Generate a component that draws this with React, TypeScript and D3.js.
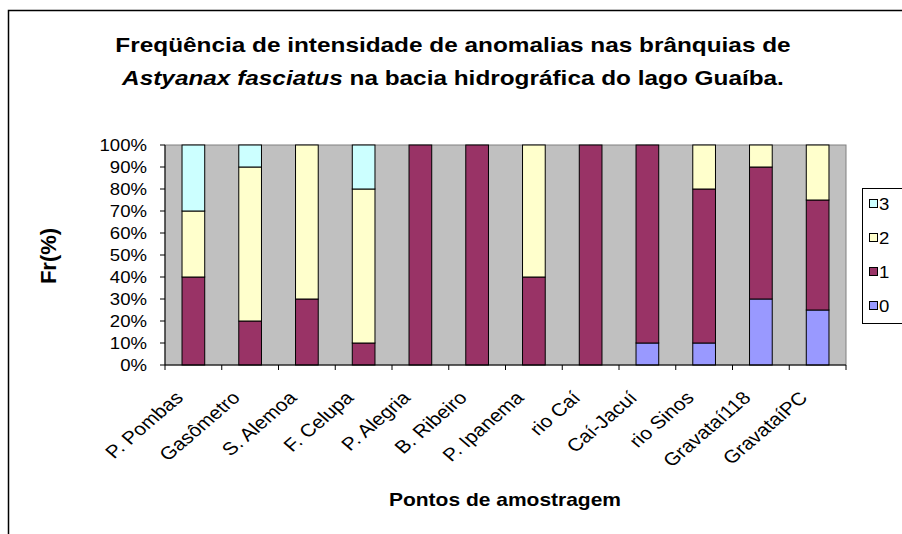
import React from 'react';
import * as d3 from 'd3';

const sites = [
  'P. Pombas', 'Gasômetro', 'S. Alemoa', 'F. Celupa', 'P. Alegria', 'B. Ribeiro',
  'P. Ipanema', 'rio Caí', 'Caí-Jacuí', 'rio Sinos', 'Gravataí118', 'GravataíPC',
];
// percentages per intensity class
const class0 = [0, 0, 0, 0, 0, 0, 0, 0, 10, 10, 30, 25];
const class1 = [40, 20, 30, 10, 100, 100, 40, 100, 90, 70, 60, 50];
const class2 = [30, 70, 70, 70, 0, 0, 60, 0, 0, 20, 10, 25];
const class3 = [30, 10, 0, 20, 0, 0, 0, 0, 0, 0, 0, 0];
const seriesKeys = ['0', '1', '2', '3'];
const seriesColors = ['#9999FF', '#993366', '#FFFFCC', '#CCFFFF'];
const yTicks = [0, 10, 20, 30, 40, 50, 60, 70, 80, 90, 100];

const W = 902;
const H = 534;
const plot = { left: 165, right: 846, top: 145, bottom: 365 };
const font = 'Arial, "Liberation Sans", sans-serif';
const SX = 1.16; // the original render is a bit wider than tall

export default function App() {
  const rows = sites.map((s, i) => ({
    site: s, '0': class0[i], '1': class1[i], '2': class2[i], '3': class3[i],
  }));
  const stacked = d3.stack<any>().keys(seriesKeys)(rows);

  const x = d3.scaleBand().domain(sites).range([plot.left, plot.right]).paddingInner(0.6).paddingOuter(0.3);
  const xOuter = d3.scaleBand().domain(sites).range([plot.left, plot.right]);
  const y = d3.scaleLinear().domain([0, 100]).range([plot.bottom, plot.top]);

  const legendItems = [...seriesKeys].reverse();

  return (
    <div style={{ position: 'absolute', left: 0, top: 0, width: W, height: H, background: '#fff' }}>
      <svg width={W} height={H} style={{ display: 'block', fontFamily: font }}>
        {/* chart frame */}
        <rect x={8.5} y={10.5} width={W + 10} height={H + 10} fill="#fff" stroke="#000" strokeWidth={1.5} />

        {/* title */}
        <text transform={`translate(453,52) scale(${SX},1)`} textAnchor="middle" fontSize={21} fontWeight="bold">
          Freqüência de intensidade de anomalias nas brânquias de
        </text>
        <text transform={`translate(453,85) scale(${SX},1)`} textAnchor="middle" fontSize={21} fontWeight="bold">
          <tspan fontStyle="italic">Astyanax fasciatus</tspan>
          <tspan>{'  na bacia hidrográfica do lago Guaíba.'}</tspan>
        </text>

        {/* plot background */}
        <rect x={plot.left} y={plot.top} width={plot.right - plot.left} height={plot.bottom - plot.top}
          fill="#C0C0C0" stroke="#808080" strokeWidth={1} />

        {/* bars */}
        {stacked.map((layer, si) => (
          <g key={layer.key}>
            {layer.map((d, i) => {
              const h = y(d[0]) - y(d[1]);
              if (h <= 0) return null;
              return (
                <rect key={i} x={x(sites[i])!} y={y(d[1])} width={x.bandwidth()} height={h}
                  fill={seriesColors[si]} stroke="#000" strokeWidth={1} />
              );
            })}
          </g>
        ))}

        {/* y axis */}
        <line x1={plot.left} x2={plot.left} y1={plot.top} y2={plot.bottom} stroke="#000" />
        {yTicks.map((t) => (
          <g key={t}>
            <line x1={plot.left - 5} x2={plot.left} y1={y(t)} y2={y(t)} stroke="#000" />
            <text transform={`translate(${plot.left - 18},${y(t) + 5.5}) scale(${SX},1)`} textAnchor="end" fontSize={16}>{t}%</text>
          </g>
        ))}
        <text transform={`translate(56,256) rotate(-90)`} textAnchor="middle" fontSize={22} fontWeight="bold">Fr(%)</text>

        {/* x axis */}
        <line x1={plot.left} x2={plot.right} y1={plot.bottom} y2={plot.bottom} stroke="#000" />
        {[...sites.map((s) => xOuter(s)!), plot.right].map((v, i) => (
          <line key={i} x1={v} x2={v} y1={plot.bottom} y2={plot.bottom + 5} stroke="#000" />
        ))}
        {sites.map((s) => {
          const cx = xOuter(s)! + xOuter.bandwidth() / 2;
          return (
            <text key={s} transform={`translate(${cx - 9},${plot.bottom + 34}) scale(${SX},1) rotate(-45)`} textAnchor="end" fontSize={18}>{s}</text>
          );
        })}
        <text transform={`translate(505,506) scale(1.2,1)`} textAnchor="middle" fontSize={17.5} fontWeight="bold">Pontos de amostragem</text>

        {/* legend */}
        <rect x={862.5} y={188.5} width={60} height={135} fill="#fff" stroke="#000" strokeWidth={1} />
        {legendItems.map((k, i) => {
          const cy = 204 + i * 34;
          const ci = seriesKeys.indexOf(k);
          return (
            <g key={k}>
              <rect x={869.5} y={cy - 4.5} width={8} height={8} fill={seriesColors[ci]} stroke="#000" />
              <text transform={`translate(879,${cy + 6}) scale(${SX},1)`} fontSize={16}>{k}</text>
            </g>
          );
        })}
      </svg>
    </div>
  );
}
